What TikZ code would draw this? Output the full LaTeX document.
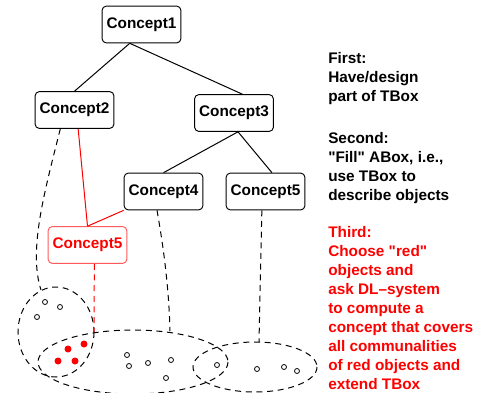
\documentclass[tikz,border=0pt]{standalone}
\usepackage{fontspec}
\setmainfont{Liberation Sans}
\usetikzlibrary{positioning, calc}

\begin{document}
\begin{tikzpicture}[x=0.75pt, y=-0.75pt]
    \tikzstyle{concept} = [rectangle, rounded corners=3pt, draw, line width=0.7pt, minimum width=59pt, minimum height=27.5pt, inner sep=0pt, font=\fontsize{11.5}{14}\selectfont\bfseries]
    \tikzstyle{ext} = [dash pattern=on 4.5pt off 3.5pt, line width=0.75pt]
    \tikzstyle{note} = [anchor=base west, align=left, inner sep=0pt, font=\fontsize{11.5}{14.25}\selectfont\bfseries]
    \tikzstyle{obj} = [line width=0.6pt]

    \useasboundingbox (0,0) rectangle (479,393);
    \clip (0,0) rectangle (479,393);

    % TBox
    \node[concept] (c1) at (141.5,24.5) {Concept1};
    \node[concept] (c2) at (74.5,110) {Concept2};
    \node[concept] (c3) at (234,113) {Concept3};
    \node[concept] (c4) at (163.5,191.5) {Concept4};
    \node[concept] (c5) at (265.5,191.5) {Concept5};
    \node[concept, draw=red!65, text=red] (c5r) at (87.5,245) {Concept5};

    \draw[line width=0.75pt] (c1.238) -- (c2.north);
    \draw[line width=0.75pt] (c1.238) -- (c3.66);
    \draw[line width=0.75pt] (c3.282) -- (c4.north);
    \draw[line width=0.75pt] (c3.282) -- (c5.71);
    \draw[red, line width=0.75pt] (c2.281) -- (c5r.north);
    \draw[red, line width=0.75pt] (c4.south west) -- (c5r.north);

    % ABox
    \draw[ext] (56,332) ellipse [x radius=38, y radius=45];
    \draw[ext] (133,362) ellipse [x radius=95, y radius=32];
    \draw[ext] (255,367) ellipse [x radius=62, y radius=25];

    \coordinate (e2) at (41,290);
    \coordinate (e4) at (170,331);
    \coordinate (e5) at (259,342);
    \coordinate (e5r) at (94,332);

    \draw[ext] (c2.233) .. controls (45,190) and (28,250) .. (e2);
    \draw[ext] (c4.251) .. controls (164,250) and (169,290) .. (e4);
    \draw[ext] (c5.259) -- (e5);
    \draw[ext, red] (c5r.290) -- (e5r);

    \draw[obj] (45,302) circle [radius=2.5];
    \draw[obj] (60,307) circle [radius=2.5];
    \draw[obj] (37,317) circle [radius=2.5];
    \fill[red] (68,349) circle [radius=3.5];
    \fill[red] (84,344) circle [radius=3.5];
    \fill[red] (58,361) circle [radius=3.5];
    \fill[red] (75,361) circle [radius=3.5];
    \draw[obj] (127,355) circle [radius=2.5];
    \draw[obj] (129,366) circle [radius=2.5];
    \draw[obj] (148,363) circle [radius=2.5];
    \draw[obj] (171,360) circle [radius=2.5];
    \draw[obj] (166,378) circle [radius=2.5];
    \draw[obj] (217,365) circle [radius=2.5];
    \draw[obj] (257,369) circle [radius=2.5];
    \draw[obj] (284,367) circle [radius=2.5];
    \draw[obj] (297,371) circle [radius=2.5];

    % steps (anchored at the baseline of the last line)
    \node[note] (first) at (328,101.5) {First:\\Have/design\\part of TBox};
    \node[note] (second) at (328,200.5) {Second:\\\textquotedbl Fill\textquotedbl{} ABox, i.e.,\\use TBox to\\describe objects};
    \node[note, text=red] (third) at (328,389) {Third:\\Choose \textquotedbl red\textquotedbl\\objects and\\ask DL--system\\to compute a\\concept that covers\\all communalities\\of red objects and\\extend TBox};
\end{tikzpicture}
\end{document}
